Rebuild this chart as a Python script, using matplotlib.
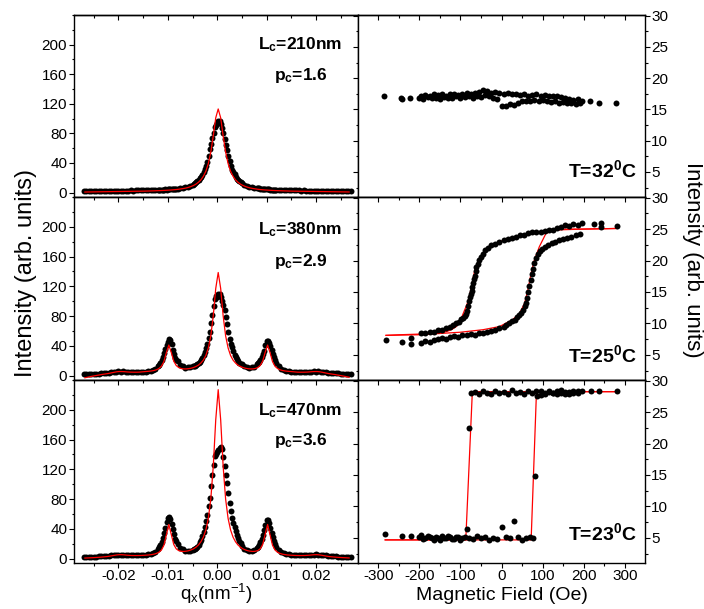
import numpy as np
import matplotlib
matplotlib.use("Agg")
import matplotlib.pyplot as plt
from matplotlib.ticker import MultipleLocator, FixedLocator, FormatStrFormatter

plt.rcParams.update({
    "font.family": "Liberation Sans",
    "mathtext.fontset": "custom",
    "mathtext.rm": "Liberation Sans",
    "mathtext.it": "Liberation Sans:italic",
    "mathtext.bf": "Liberation Sans:bold",
    "axes.unicode_minus": False,
    "axes.linewidth": 1.0,
})

# ---- scattering profiles (left column) ----
# measured points on a 0.0005 nm^-1 grid, fits on a grid shifted to the peak centre
QX = np.linspace(-0.027, 0.027, 109)
QX_FIT = np.linspace(-0.0268, 0.0267, 108)
# extra points taken between grid steps around the main peak and first satellites
QX_HALF = [-0.01175, -0.01125, -0.01075, -0.01025, -0.00975, -0.00925, -0.00875, -0.00825,
           -0.00475, -0.00425, -0.00375, -0.00325, -0.00275, -0.00225, -0.00175, -0.00125,
           -0.00075, -0.00025, 0.00025, 0.00075, 0.00125, 0.00175, 0.00225, 0.00275,
           0.00325, 0.00375, 0.00425, 0.00475,
           0.00825, 0.00875, 0.00925, 0.00975, 0.01025, 0.01075, 0.01125, 0.01175]

DOTS_210 = [2.0, 2.1, 1.9, 2.0, 2.1, 2.2, 2.0, 2.2, 2.3, 2.1, 2.3, 2.4, 2.2, 2.4,
            2.4, 2.6, 2.5, 2.7, 2.6, 2.8, 2.7, 2.9, 2.8, 3.0,
            2.9, 3.1, 3.0, 3.3, 3.2, 3.5, 3.4, 3.8, 3.9, 4.2,
            4.3, 4.6, 4.8, 5.2, 5.5, 6.1, 6.5, 7.3, 8.0, 9.2,
            10.5, 12.8, 15.1, 19.2, 23.8, 31.5, 41.5, 58.5, 73.5, 88,
            94,
            97,
            87, 72, 57, 42.5, 31, 24.5, 18.8, 15.5, 12.4, 10.7,
            9.0, 8.1, 7.1, 6.6, 5.9, 5.6, 5.0, 4.9, 4.4, 4.3,
            4.0, 4.0, 3.6, 3.6, 3.3, 3.3, 3.1, 3.1, 2.9, 2.9,
            2.8, 2.8, 2.7, 2.8, 2.6, 2.7, 2.5, 2.6, 2.4, 2.5,
            2.3, 2.4, 2.2, 2.3, 2.2, 2.1, 2.2, 2.0, 2.1, 2.0, 1.9, 2.0, 2.1]
HALF_210 = [3.5, 3.7, 3.9, 4.1, 4.4, 4.7, 5.0, 5.3,
            11.6, 13.9, 17, 21.3, 27.5, 36, 50, 66, 81, 91.5,
            96.5, 92.5, 80, 64.5, 49.5, 36.5, 27.5, 21.5, 17, 14,
            5.7, 5.3, 4.9, 4.6, 4.3, 4.1, 3.9, 3.6]

DOTS_380 = [1.8, 2.1, 2.0, 2.3, 2.2, 2.6, 2.6, 3.0, 3.1, 3.7, 3.9, 4.6, 4.8, 5.3,
            5.5, 5.4, 5.6, 5.2, 5.2, 4.8, 4.9, 4.6, 4.8, 4.8,
            5.2, 5.4, 6.1, 6.6, 7.9, 9.3, 12.5, 16.6, 25.0, 35.5,
            45, 48, 34.5, 24, 19, 14.3, 12.4, 10.8, 11.1, 11.3,
            12.2, 13.5, 15.5, 18.5, 24, 31, 43, 58, 82, 103,
            106,
            109,
            100, 88, 69, 49, 38, 27.5, 22.4, 17.4, 15.0, 12.5,
            11.6, 10.7, 11.2, 12.0, 15.0, 18.4, 24.8, 33.5, 46, 43.5,
            34.5, 24.8, 16.8, 12.4, 9.3, 7.9, 6.6, 6.1, 5.4, 5.2,
            4.8, 4.8, 4.6, 4.9, 4.8, 5.2, 5.2, 5.6, 5.4, 5.5,
            5.1, 5.0, 4.4, 4.1, 3.5, 3.3, 2.8, 2.8, 2.4, 2.4, 2.1, 2.2, 1.9]
HALF_380 = [14.3, 20.5, 30.5, 41.5, 48.5, 42, 29, 21.3,
            12.8, 14.4, 16.9, 21, 27.5, 36.5, 50, 70, 93, 107,
            110, 106, 95, 79, 58, 43, 32.5, 25, 19.8, 16.2,
            16.6, 21.4, 29, 40.5, 46.5, 39.5, 29.5, 20.5]

DOTS_470 = [2.0, 1.9, 2.2, 2.1, 2.4, 2.4, 2.8, 2.8, 3.3, 3.5, 4.1, 4.3, 4.9, 5.0,
            5.4, 5.3, 5.4, 5.0, 5.0, 4.6, 4.6, 4.3, 4.5, 4.4,
            4.8, 4.9, 5.6, 6.2, 7.6, 9.3, 12.6, 17.8, 27.5, 41,
            55, 53, 39.5, 26.5, 19.8, 14.7, 12.4, 10.6, 10.4, 10.5,
            11.5, 13, 16, 22, 30, 43, 59, 82, 112, 138,
            143,
            149,
            147, 124, 101, 75, 55, 42, 32, 23.5, 17.5, 13.5,
            11.2, 10.0, 10.3, 11.5, 14, 18.5, 26, 38, 52, 48,
            35, 23, 15.5, 11, 8.5, 7.0, 6.1, 5.5, 5.1, 4.8,
            4.6, 4.5, 4.5, 4.6, 4.8, 5.0, 5.2, 5.4, 5.5, 5.3,
            5.1, 4.7, 4.3, 3.9, 3.5, 3.1, 2.9, 2.6, 2.5, 2.3, 2.2, 2.1, 2.0]
HALF_470 = [15, 22.5, 34, 48.5, 56, 46.5, 32.5, 23,
            12.2, 14.3, 18.7, 25.5, 36, 50.5, 70, 97, 126, 141,
            146, 149.5, 136, 112, 88, 64, 48, 37, 27.5, 20.3,
            16.2, 22, 31.5, 45, 51.5, 41.5, 29, 19]

FIT_210 = [0.7, 0.8, 0.85, 0.9, 0.95, 1.0, 1.05, 1.1, 1.15, 1.2,
           1.25, 1.3, 1.35, 1.4, 1.45, 1.5, 1.55, 1.6, 1.65, 1.7,
           1.75, 1.8, 1.85, 1.9, 1.95, 2.05, 2.15, 2.25, 2.35, 2.5,
           2.6, 2.75, 2.9, 3.1, 3.3, 3.5, 3.8, 4.1, 4.5, 5.0,
           5.55, 6.2, 7.1, 8.2, 9.6, 11.4, 13.9, 17.2, 22.0, 28.9,
           39.2, 54.7, 76.6, 101,
           113,
           101, 76.6, 54.7, 39.2, 28.9, 22.0, 17.2, 13.9, 11.4, 9.6,
           8.2, 7.1, 6.2, 5.55, 5.0, 4.5, 4.1, 3.8, 3.5, 3.3,
           3.1, 2.9, 2.75, 2.6, 2.5, 2.35, 2.25, 2.15, 2.05, 1.95,
           1.9, 1.85, 1.8, 1.75, 1.7, 1.65, 1.6, 1.55, 1.5, 1.45,
           1.4, 1.35, 1.3, 1.25, 1.2, 1.15, 1.1, 1.05, 1.0, 0.95,
           0.9, 0.85, 0.8]

FIT_380 = [-3.0, -2.3, -1.6, -0.9, -0.3, 0.3, 0.9, 1.5, 2.0, 2.5,
           3.1, 3.8, 4.5, 5.1, 5.4, 5.35, 5.2, 4.9, 4.66, 4.55,
           4.5, 4.5, 4.6, 4.9, 5.2, 5.5, 5.8, 6.2, 6.8, 7.8,
           9.5, 12.5, 18.7, 30.7, 41.0, 31.0, 19.3, 13.5, 10.8, 9.45,
           8.95, 8.9, 9.25, 9.85, 10.8, 12.2, 14.0, 16.9, 20.8, 27.0,
           37.1, 53.4, 80.3, 117,
           138.5,
           117, 80.3, 53.4, 37.1, 27.0, 20.8, 16.9, 14.0, 12.2, 10.8,
           9.85, 9.25, 8.9, 8.95, 9.45, 10.8, 13.5, 19.3, 31.0, 41.0,
           30.7, 18.7, 12.5, 9.5, 7.8, 6.8, 6.2, 5.8, 5.5, 5.2,
           4.9, 4.6, 4.5, 4.5, 4.55, 4.66, 4.9, 5.2, 5.35, 5.4,
           5.1, 4.5, 3.8, 3.1, 2.5, 2.0, 1.5, 0.9, 0.3, -0.3,
           -0.9, -1.6, -2.3]

FIT_470 = [0.66, 0.82, 0.98, 1.15, 1.33, 1.55, 1.77, 2.04, 2.35, 2.7,
           3.2, 3.75, 4.37, 4.9, 5.2, 5.16, 4.9, 4.55, 4.3, 4.1,
           4.06, 4.05, 4.1, 4.2, 4.4, 4.6, 4.86, 5.3, 5.9, 6.9,
           8.5, 11.5, 17.8, 31.7, 45.8, 32.3, 18.9, 13.1, 10.7, 9.8,
           9.55, 9.9, 10.5, 11.65, 13.1, 15.3, 18.3, 22.6, 28.9, 38.5,
           54, 80, 124, 186.5,
           227,
           186.5, 124, 80, 54, 38.5, 28.9, 22.6, 18.3, 15.3, 13.1,
           11.65, 10.5, 9.9, 9.55, 9.8, 10.7, 13.1, 18.9, 32.3, 45.8,
           31.7, 17.8, 11.5, 8.5, 6.9, 5.9, 5.3, 4.86, 4.6, 4.4,
           4.2, 4.1, 4.05, 4.06, 4.1, 4.3, 4.55, 4.9, 5.16, 5.2,
           4.9, 4.37, 3.75, 3.2, 2.7, 2.35, 2.04, 1.77, 1.55, 1.33,
           1.15, 0.98, 0.82]

LEFT_LABELS = [("210", "1.6"), ("380", "2.9"), ("470", "3.6")]

# ---- hysteresis loops (right column) ----
H_SWEEP_DOWN = [195, 185, 175, 165, 155, 145, 135, 125, 115, 105, 95, 85, 75, 65,
                55, 45, 35, 25, 15, 5, -5, -15, -25, -35, -45, -55, -65, -75,
                -85, -95, -105, -115, -125, -135, -145, -155, -165, -175, -185, -195]
H_SWEEP_UP = [-200, -190, -180, -170, -160, -150, -140, -130, -120, -110, -100, -90,
              -80, -70, -60, -50, -40, -30, -20, -10, 0, 10, 20, 30, 40, 50, 60, 70,
              80, 90, 100, 110, 120, 130, 140, 150, 160, 170, 180, 190]

I32_DOWN = [16.4, 16.6, 16.5, 16.7, 16.8, 17.0, 17.1, 17.2, 17.1, 17.3, 17.2, 17.4, 17.3, 17.2,
            17.4, 17.3, 17.5, 17.4, 17.6, 17.5, 17.7, 17.8, 17.6, 17.9, 18.1, 17.8, 17.7, 17.5,
            17.6, 17.4, 17.3, 17.5, 17.4, 17.2, 17.5, 17.3, 17.4, 17.2, 17.3, 17.2]
I32_UP = [16.9, 16.7, 17.0, 16.8, 16.9, 16.7, 17.0, 16.8, 16.9, 17.1, 16.8, 17.0,
          17.1, 16.9, 17.2, 17.0, 17.3, 17.1, 16.9, 16.6, 15.6, 15.5, 15.8, 15.7, 16.0, 16.3,
          16.4, 16.3, 16.5, 16.4, 16.5, 16.3, 16.2, 16.3, 16.1, 16.2, 16.0, 16.1, 15.9, 16.0]
H32_OUT = [-286, -245, -242, -223, 215, 237, 278]
I32_OUT = [17.2, 16.9, 16.7, 16.9, 16.3, 16.1, 16.1]

H25_DOWN = [195, 185, 175, 165, 155, 145, 135, 125, 115, 105, 95, 85, 75, 65, 55, 45, 35, 25, 15, 5,
            -5, -15, -25, -33, -40, -46, -51, -55, -58, -61, -63, -65, -67, -69, -71, -73, -75,
            -77, -79, -81, -84, -87, -90, -94, -98, -103, -110, -118, -126, -135, -145, -155,
            -165, -175, -185, -195]
I25_DOWN = [25.9, 25.7, 25.8, 25.5, 25.6, 25.3, 25.2, 24.9, 24.8, 24.7, 24.6, 24.5, 24.6, 24.3,
            24.1, 24.0, 23.8, 23.6, 23.4, 23.2, 23.0, 22.7, 22.4, 22.0, 21.6, 21.1, 20.6, 20.1,
            19.5, 19.0, 18.4, 17.6, 17.0, 16.4, 15.8, 15.2, 14.7, 14.2, 13.5, 12.8, 12.0, 11.5,
            11.2, 10.9, 10.7, 10.3, 10.0, 9.7, 9.5, 9.3, 9.0, 8.9, 8.7, 8.6, 8.5, 8.4]
H25_UP = [-195, -185, -175, -165, -155, -145, -135, -125, -115, -105, -95, -85, -75, -65,
          -55, -45, -35, -25, -15, -5, 5, 12, 19, 26, 32, 38, 43, 48, 52, 56, 59, 62, 65, 68,
          71, 74, 77, 80, 84, 88, 93, 99, 106, 114, 122, 131, 140, 150, 160, 170, 180, 190]
I25_UP = [6.9, 7.2, 7.1, 7.4, 7.5, 7.7, 7.6, 7.9, 8.0, 7.9, 8.2, 8.1, 8.3, 8.2, 8.4, 8.5,
          8.6, 8.8, 9.0, 9.2, 9.4, 9.8, 10.0, 10.4, 10.6, 11.0, 11.3, 11.7, 12.1, 12.7, 13.3,
          14.1, 15.0, 16.0, 16.9, 17.8, 18.7, 19.6, 20.4, 21.0, 21.5, 21.9, 22.2, 22.5, 22.8,
          23.0, 23.2, 23.4, 23.6, 23.8, 24.0, 24.2]
H25_OUT = [-281, -243, -220, -220, 225, 241, 241, 282]
I25_OUT = [7.4, 7.0, 7.7, 6.75, 25.8, 26.0, 25.3, 25.5]
H25_FIT_DOWN = [282, 200, 150, 124, 100, 76, 50, 19, 0, -21, -40, -53, -60, -65, -69, -73,
                -77, -81, -86, -90, -98, -110, -122, -134, -150, -166, -200, -247, -281]
I25_FIT_DOWN = [25.1, 25.0, 24.9, 24.8, 24.6, 24.3, 24.0, 23.5, 23.1, 22.5, 21.6, 20.3, 19.4,
                18.5, 17.2, 15.8, 14.7, 13.6, 12.7, 12.1, 10.8, 9.5, 9.0, 8.7, 8.5, 8.4, 8.3,
                8.2, 8.1]
H25_FIT_UP = [-281, -200, -150, -100, -45, -5, 27, 44, 56, 64, 72, 80, 92, 108, 132, 160, 200, 282]
I25_FIT_UP = [8.1, 8.2, 8.4, 8.6, 9.0, 9.5, 10.6, 11.6, 13.2, 15.3, 18.0, 20.1, 22.2, 24.3,
              24.95, 25.0, 25.0, 25.1]

H23_DOWN = [195, 185, 175, 165, 155, 145, 135, 125, 115, 105, 95, 85, 75, 65, 55, 45, 35, 25,
            15, 5, -5, -15, -25, -35, -45, -55, -65, -75, -80, -84, -95, -105, -115, -125,
            -135, -145, -155, -165, -175, -185, -195]
I23_DOWN = [28.3, 28.0, 28.4, 27.9, 28.2, 28.5, 27.8, 28.1, 28.4, 28.0, 27.7, 28.3, 28.1, 28.4,
            27.9, 28.2, 28.0, 28.5, 27.8, 28.2, 28.0, 28.3, 27.9, 28.1, 28.4, 27.8, 28.2, 28.0,
            22.4, 6.4, 5.0, 5.2, 4.8, 5.1, 4.9, 5.3, 5.0, 4.7, 5.2, 5.0, 5.4]
H23_UP = [-200, -190, -180, -170, -160, -150, -140, -130, -120, -110, -100, -90, -80, -70,
          -60, -50, -40, -30, -20, -10, 0, 10, 20, 30, 40, 50, 60, 70, 76, 82, 87,
          95, 105, 115, 125, 135, 145, 155, 165, 175, 185]
I23_UP = [5.1, 4.8, 5.3, 4.9, 5.2, 4.6, 5.0, 5.3, 4.8, 5.1, 4.7, 5.2, 5.0, 4.8, 5.3, 4.9,
          5.1, 4.6, 5.0, 4.8, 6.7, 5.1, 4.9, 7.7, 5.2, 4.7, 4.9, 5.1, 5.0, 14.8, 27.5,
          28.3, 27.9, 28.2, 28.0, 28.4, 28.1, 27.8, 28.2, 28.0, 28.3]
H23_OUT = [-283, -243, -220, 218, 238, 282]
I23_OUT = [5.65, 5.25, 5.35, 28.4, 28.4, 28.3]
H23_FIT_DOWN = [284, -71, -87, -283]
I23_FIT_DOWN = [28.25, 28.25, 4.68, 4.68]
H23_FIT_UP = [-283, 72, 85, 284]
I23_FIT_UP = [4.68, 4.68, 28.25, 28.25]

TEMPS = ["32", "25", "23"]

fig = plt.figure(figsize=(7.04, 6.09), dpi=100)

rows = [(0.6765, 0.2989), (0.3760, 0.3005), (0.0755, 0.3005)]
tick_kw = dict(labelsize=11, width=0.8)
dot_kw = dict(color="black", ms=4.3, mec="none", ls="none", marker="o")


def add_top_ticks(ax, major, minor):
    sec = ax.secondary_xaxis("top")
    sec.xaxis.set_major_locator(MultipleLocator(major))
    sec.xaxis.set_minor_locator(MultipleLocator(minor))
    sec.tick_params(which="both", direction="in", labeltop=False, width=0.8)
    sec.tick_params(which="major", length=3.4)
    sec.tick_params(which="minor", length=1.8)
    sec.spines["top"].set_linewidth(1.0)


left_dots = [DOTS_210, DOTS_380, DOTS_470]
left_half = [HALF_210, HALF_380, HALF_470]
left_fits = [FIT_210, FIT_380, FIT_470]

for i, (b, h) in enumerate(rows):
    ax = fig.add_axes([0.1051, b, 0.4041, h])
    ax.plot(QX, left_dots[i], **dot_kw)
    ax.plot(QX_HALF, left_half[i], **dot_kw)
    ax.plot(QX_FIT, left_fits[i], "-", color="#ff0000", lw=0.9)
    ax.set_xlim(-0.029, 0.0286)
    ax.set_ylim(-6, 240)
    ax.xaxis.set_major_locator(MultipleLocator(0.01))
    ax.xaxis.set_minor_locator(MultipleLocator(0.005))
    ax.xaxis.set_major_formatter(FormatStrFormatter("%.2f"))
    ax.yaxis.set_major_locator(FixedLocator([0, 40, 80, 120, 160, 200]))
    ax.yaxis.set_minor_locator(MultipleLocator(20))
    ax.tick_params(which="both", direction="out", top=False, right=False, **tick_kw)
    ax.tick_params(which="major", length=3.4, pad=1.5)
    ax.tick_params(which="minor", length=1.8)
    ax.tick_params(axis="x", which="major", pad=1.0)
    if i < 2:
        ax.tick_params(labelbottom=False)
    add_top_ticks(ax, 0.01, 0.005)
    lc, pc = LEFT_LABELS[i]
    ly = [0.835, 0.82, 0.83][i]
    py = [0.67, 0.65, 0.67][i]
    ax.text(0.796, ly, r"L$_\mathbf{c}$=%snm" % lc, transform=ax.transAxes,
            ha="center", va="center", fontsize=12.5, fontweight="bold")
    ax.text(0.796, py, r"p$_\mathbf{c}$=%s" % pc, transform=ax.transAxes,
            ha="center", va="center", fontsize=12.5, fontweight="bold")

right_sets = [
    (H_SWEEP_DOWN, I32_DOWN, H_SWEEP_UP, I32_UP, H32_OUT, I32_OUT, []),
    (H25_DOWN, I25_DOWN, H25_UP, I25_UP, H25_OUT, I25_OUT,
     [(H25_FIT_DOWN, I25_FIT_DOWN), (H25_FIT_UP, I25_FIT_UP)]),
    (H23_DOWN, I23_DOWN, H23_UP, I23_UP, H23_OUT, I23_OUT,
     [(H23_FIT_DOWN, I23_FIT_DOWN), (H23_FIT_UP, I23_FIT_UP)]),
]

for i, (b, h) in enumerate(rows):
    ax = fig.add_axes([0.5092, b, 0.4070, h])
    hd, idn, hu, iup, ho, io, fits = right_sets[i]
    for hf, fv in fits:
        ax.plot(hf, fv, "-", color="#ff0000", lw=0.9)
    ax.plot(hd, idn, **dot_kw)
    ax.plot(hu, iup, **dot_kw)
    ax.plot(ho, io, **dot_kw)
    ax.set_xlim(-348, 349)
    ax.set_ylim(1, 30.1)
    ax.xaxis.set_major_locator(MultipleLocator(100))
    ax.xaxis.set_minor_locator(MultipleLocator(50))
    ax.yaxis.set_major_locator(MultipleLocator(5))
    ax.yaxis.set_minor_locator(MultipleLocator(2.5))
    ax.yaxis.set_ticks_position("both")
    ax.tick_params(which="both", direction="out", top=False,
                   labelleft=False, labelright=True, **tick_kw)
    ax.tick_params(which="major", length=3.4, pad=1.0)
    ax.tick_params(which="minor", length=1.8)
    if i < 2:
        ax.tick_params(labelbottom=False)
    add_top_ticks(ax, 100, 50)
    ty = [0.148, 0.137, 0.163][i]
    ax.text(0.97, ty, r"T=%s$^\mathbf{0}$C" % TEMPS[i], transform=ax.transAxes,
            ha="right", va="center", fontsize=14, fontweight="bold")

fig.text(0.037, 0.552, "Intensity (arb. units)", rotation=90,
         ha="center", va="center", fontsize=17)
fig.text(0.984, 0.573, "Intensity (arb. units)", rotation=270,
         ha="center", va="center", fontsize=16)
fig.text(0.308, 0.025, r"q$_\mathregular{x}$(nm$^\mathregular{-1}$)",
         ha="center", va="center", fontsize=13.5)
fig.text(0.713, 0.022, "Magnetic Field (Oe)", ha="center", va="center", fontsize=14)

fig.savefig("out.png", dpi=100)
plt.close(fig)
